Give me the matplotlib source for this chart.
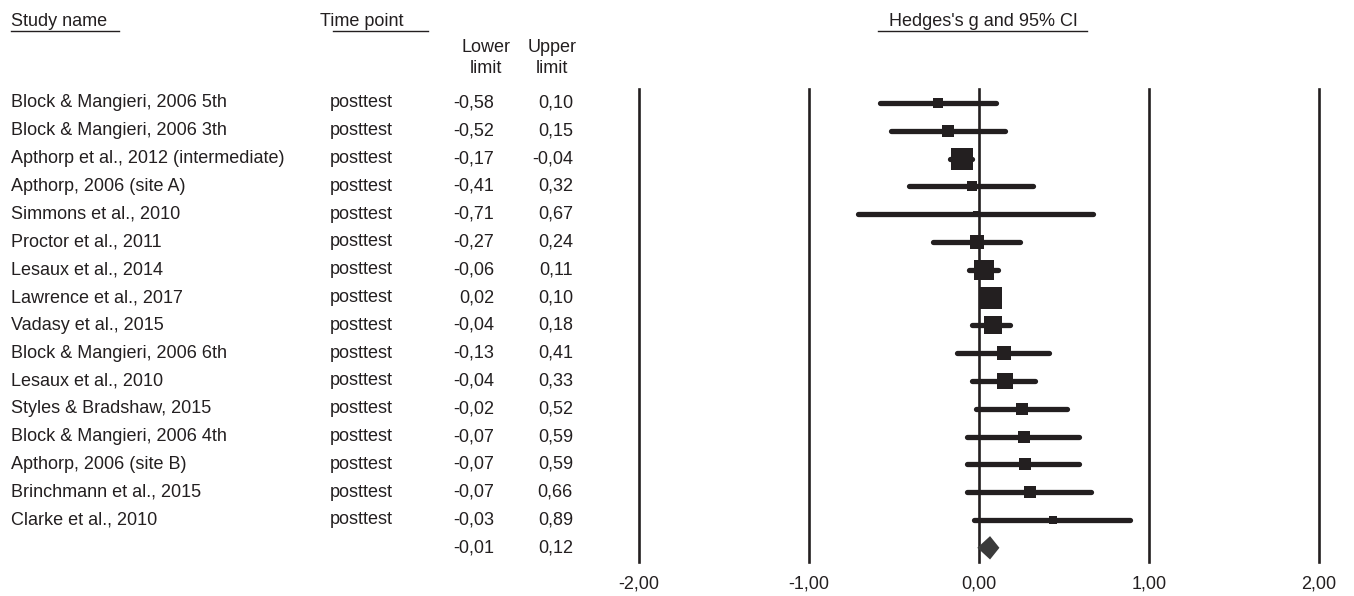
import matplotlib.pyplot as plt
from matplotlib.patches import Polygon
from matplotlib.lines import Line2D
import matplotlib.transforms as mtransforms

plt.rcParams['font.family'] = ['Liberation Sans', 'DejaVu Sans']

# Data
studies = ["Block & Mangieri, 2006 5th", "Block & Mangieri, 2006 3th",
           "Apthorp et al., 2012 (intermediate)", "Apthorp, 2006 (site A)",
           "Simmons et al., 2010", "Proctor et al., 2011", "Lesaux et al., 2014",
           "Lawrence et al., 2017", "Vadasy et al., 2015", "Block & Mangieri, 2006 6th",
           "Lesaux et al., 2010", "Styles & Bradshaw, 2015", "Block & Mangieri, 2006 4th",
           "Apthorp, 2006 (site B)", "Brinchmann et al., 2015", "Clarke et al., 2010"]
time_point = ["posttest"] * len(studies)
g = [-0.24, -0.185, -0.10, -0.04, -0.02, -0.01, 0.03, 0.07,
     0.08, 0.145, 0.155, 0.25, 0.265, 0.27, 0.30, 0.435]
lower = [-0.58, -0.52, -0.17, -0.41, -0.71, -0.27, -0.06, 0.02,
         -0.04, -0.13, -0.04, -0.02, -0.07, -0.07, -0.07, -0.03]
upper = [0.10, 0.15, -0.04, 0.32, 0.67, 0.24, 0.11, 0.10,
         0.18, 0.41, 0.33, 0.52, 0.59, 0.59, 0.66, 0.89]
weights = [3.4, 4.0, 14.8, 3.4, 1.0, 5.5, 12.4, 13.6,
           10.1, 5.5, 7.2, 4.7, 4.0, 4.0, 4.0, 1.8]  # relative weight (%)
summary_g, summary_lower, summary_upper = 0.065, -0.01, 0.12
xticks = [-2, -1, 0, 1, 2]
xtick_labels = ["-2,00", "-1,00", "0,00", "1,00", "2,00"]

ink = '#231f20'
W, H = 1354, 596

def fmt(v):
    return f"{v:.2f}".replace('.', ',')

fig = plt.figure(figsize=(W / 100, H / 100), dpi=100)
ax = fig.add_axes([639 / W, (H - 561.7) / H, 680 / W, (561.7 - 89) / H])
n = len(studies)
ax.set_xlim(-2, 2)
ax.set_ylim(n + 0.5, -0.5)
for s in ax.spines.values():
    s.set_visible(False)
ax.set_yticks([])
ax.set_xticks(xticks)
ax.set_xticklabels(xtick_labels, fontsize=13, color=ink)
ax.tick_params(axis='x', length=0, pad=10)

for x in xticks:
    ax.axvline(x, color=ink, lw=1.9, zorder=1, clip_on=False)

# CI lines and squares
for i in range(n):
    ax.plot([lower[i], upper[i]], [i, i], color=ink, lw=3.8,
            solid_capstyle='round', zorder=2)
    ax.plot(g[i], i, marker='s', color=ink, mew=0,
            markersize=4.2 * weights[i] ** 0.5, zorder=3)

# summary diamond
h = 0.42
ax.add_patch(Polygon([(summary_lower, n), (summary_g, n - h),
                      (summary_upper, n), (summary_g, n + h)],
                     closed=True, color='#3a3a3a', lw=0, zorder=3))

# text columns
tr = mtransforms.blended_transform_factory(fig.transFigure, ax.transData)
for i in range(n):
    ax.text(11 / W, i, studies[i], transform=tr, ha='left', va='center',
            fontsize=13, color=ink)
    ax.text(330 / W, i, time_point[i], transform=tr, ha='left', va='center',
            fontsize=13, color=ink)
    ax.text(494 / W, i, fmt(lower[i]), transform=tr, ha='right', va='center',
            fontsize=13, color=ink)
    ax.text(573 / W, i, fmt(upper[i]), transform=tr, ha='right', va='center',
            fontsize=13, color=ink)
ax.text(494 / W, n, fmt(summary_lower), transform=tr, ha='right', va='center',
        fontsize=13, color=ink)
ax.text(573 / W, n, fmt(summary_upper), transform=tr, ha='right', va='center',
        fontsize=13, color=ink)

# headers
def header(x, text, ha, u0, u1):
    fig.text(x / W, 1 - 21 / H, text, ha=ha, va='center', fontsize=13, color=ink)
    fig.add_artist(Line2D([u0 / W, u1 / W], [1 - 31 / H, 1 - 31 / H],
                          color=ink, lw=1.0, transform=fig.transFigure))

header(11, "Study name", 'left', 11, 119)
header(320, "Time point", 'left', 333, 428)
header(983, "Hedges's g and 95% CI", 'center', 878, 1087)
fig.text(486 / W, 1 - 58 / H, "Lower\nlimit", ha='center', va='center',
         fontsize=13, color=ink, linespacing=1.25)
fig.text(552 / W, 1 - 58 / H, "Upper\nlimit", ha='center', va='center',
         fontsize=13, color=ink, linespacing=1.25)

fig.savefig('out.png', dpi=100, facecolor='white')
